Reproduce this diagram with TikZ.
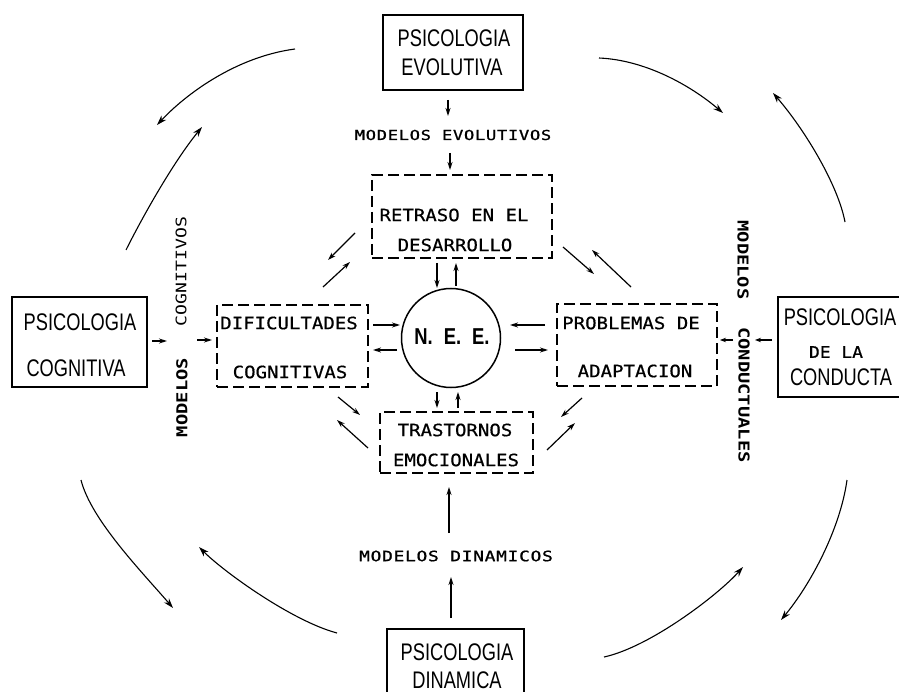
\documentclass[tikz,border=0pt]{standalone}
\usepackage{fontspec}
\usetikzlibrary{arrows.meta}
\newfontfamily\headfont[FakeStretch=0.76]{Liberation Sans}
\newfontfamily\neefont[FakeStretch=0.8]{Liberation Sans}
\newfontfamily\boxfont[FakeStretch=1.12, FakeBold=0.6]{DejaVu Sans Mono}
\newfontfamily\labfont[FakeStretch=1.25, LetterSpace=5, FakeBold=1]{DejaVu Sans Mono}
\newfontfamily\vertfont[FakeStretch=1.25]{DejaVu Sans Mono}
\begin{document}
\begin{tikzpicture}[x=1pt,y=-1pt,
  psbox/.style={draw, line width=1.5pt, inner sep=0pt},
  dbox/.style={draw, line width=1.6pt, dash pattern=on 11pt off 5pt, inner sep=0pt},
  head/.style={font=\headfont\fontsize{24}{24}\selectfont, inner sep=0pt},
  small/.style={font=\boxfont\fontsize{16}{16}\selectfont, inner sep=0pt},
  intext/.style={font=\boxfont\fontsize{17}{17}\selectfont, inner sep=0pt},
  lab/.style={font=\labfont\fontsize{13.7}{14}\selectfont, inner sep=0pt},
  vlab/.style={font=\vertfont\bfseries\fontsize{15}{15}\selectfont, inner sep=0pt},
  arr/.style={-{Stealth[length=8pt,width=5pt]}, line width=1.2pt},
  curve/.style={-{Stealth[length=10pt,width=6.5pt]}, line width=1.1pt}]
\useasboundingbox[fill=white] (0,0) rectangle (899,692);

% outer boxes
\node[psbox, minimum width=140pt, minimum height=75pt] (evol) at (453,52.5) {};
\node[psbox, minimum width=135pt, minimum height=90pt] (cogn) at (79.5,342) {};
\node[psbox, minimum width=127pt, minimum height=100pt] (cond) at (841.5,347) {};
\node[psbox, minimum width=137pt, minimum height=71pt] (din) at (455.5,664.5) {};

\node[head] (evol1) at (454,38) {PSICOLOGIA};
\node[head] (evol2) at (452,67) {EVOLUTIVA};
\node[head] (cogn1) at (80,322) {PSICOLOGIA};
\node[head] (cogn2) at (76,368) {COGNITIVA};
\node[head] (cond1) at (840,317) {PSICOLOGIA};
\node[small] (cond2) at (836,352) {DE LA};
\node[head] (cond3) at (841,377) {CONDUCTA};
\node[head] (din1) at (457,652) {PSICOLOGIA};
\node[head] (din2) at (457,680) {DINAMICA};

% inner dashed boxes
\node[dbox, minimum width=180pt, minimum height=83pt] (retr) at (462,216.5) {};
\node[dbox, minimum width=151pt, minimum height=82pt] (dific) at (292.5,346) {};
\node[dbox, minimum width=160pt, minimum height=82pt] (probl) at (637,345) {};
\node[dbox, minimum width=153pt, minimum height=61pt] (trast) at (456.5,442.5) {};

\node[intext] (retr1) at (454,215) {RETRASO EN EL};
\node[intext] (retr2) at (455,245) {DESARROLLO};
\node[intext] (dific1) at (289,323) {DIFICULTADES};
\node[intext] (dific2) at (290,372) {COGNITIVAS};
\node[intext] (probl1) at (631,323) {PROBLEMAS DE};
\node[intext] (probl2) at (635,371) {ADAPTACION};
\node[intext] (trast1) at (455,430) {TRASTORNOS};
\node[intext] (trast2) at (456,460) {EMOCIONALES};

% centre
\node[draw, circle, line width=1.5pt, minimum size=99pt, inner sep=0pt] (nee) at (451,338) {};
\node[inner sep=0pt, font=\neefont\bfseries\fontsize{23}{23}\selectfont] (neetxt) at (452,337)
  {N.\hspace{11pt}E.\hspace{11pt}E.};

% model labels
\node[lab] (mevol) at (453,135) {MODELOS EVOLUTIVOS};
\node[lab, font=\labfont\fontsize{14.3}{15}\selectfont] (mdin) at (456,556) {MODELOS DINAMICOS};
\node[vlab, rotate=90] (mcog1) at (182,397.5) {MODELOS};
\node[vlab, rotate=90, font=\vertfont\fontsize{14.5}{15}\selectfont] (mcog2) at (181,271.5) {COGNITIVOS};
\node[vlab, rotate=-90] (mcon1) at (743,260) {MODELOS};
\node[vlab, rotate=-90] (mcon2) at (744,395) {CONDUCTUALES};

% end points of the short arrows
\coordinate (a1s) at (448,100); \coordinate (a1e) at (448,116);
\coordinate (a2s) at (450,153); \coordinate (a2e) at (450,170);
\coordinate (rn1s) at (437,263); \coordinate (rn1e) at (437,288);
\coordinate (rn2s) at (456,286); \coordinate (rn2e) at (456,263);
\coordinate (dn1s) at (373,325); \coordinate (dn1e) at (400,325);
\coordinate (dn2s) at (397,350); \coordinate (dn2e) at (373,350);
\coordinate (pn1s) at (545,325); \coordinate (pn1e) at (510,325);
\coordinate (pn2s) at (515,350); \coordinate (pn2e) at (548,350);
\coordinate (tn1s) at (437,392); \coordinate (tn1e) at (437,408);
\coordinate (tn2s) at (458,408); \coordinate (tn2e) at (458,392);
\coordinate (c1s) at (152,341); \coordinate (c1e) at (167,341);
\coordinate (c2s) at (197,340); \coordinate (c2e) at (212,340);
\coordinate (k1s) at (772,340); \coordinate (k1e) at (755,340);
\coordinate (k2s) at (733,340); \coordinate (k2e) at (720,340);
\coordinate (d1s) at (451,618); \coordinate (d1e) at (451,577);
\coordinate (d2s) at (449,533); \coordinate (d2e) at (449,487);

\draw[arr] (a1s) -- (a1e);
\draw[arr] (a2s) -- (a2e);
\draw[arr] (rn1s) -- (rn1e);
\draw[arr] (rn2s) -- (rn2e);
\draw[arr] (dn1s) -- (dn1e);
\draw[arr] (dn2s) -- (dn2e);
\draw[arr] (pn1s) -- (pn1e);
\draw[arr] (pn2s) -- (pn2e);
\draw[arr] (tn1s) -- (tn1e);
\draw[arr] (tn2s) -- (tn2e);
\draw[arr] (c1s) -- (c1e);
\draw[arr] (c2s) -- (c2e);
\draw[arr,-{Stealth[length=6pt,width=4.5pt]}] (k1s) -- (k1e);
\draw[arr,-{Stealth[length=6pt,width=4.5pt]}] (k2s) -- (k2e);
\draw[arr] (d1s) -- (d1e);
\draw[arr] (d2s) -- (d2e);

% diagonal arrows between the dashed boxes
\coordinate (g1s) at (355,233); \coordinate (g1e) at (328,260);
\coordinate (g2s) at (323,287); \coordinate (g2e) at (350,262);
\coordinate (g3s) at (563,247); \coordinate (g3e) at (594,274);
\coordinate (g4s) at (631,287); \coordinate (g4e) at (592,250);
\coordinate (g5s) at (582,398); \coordinate (g5e) at (561,417);
\coordinate (g6s) at (547,450); \coordinate (g6e) at (575,423);
\coordinate (g7s) at (338,397); \coordinate (g7e) at (360,415);
\coordinate (g8s) at (368,448); \coordinate (g8e) at (337,420);
\foreach \i in {1,...,8} { \draw[arr] (g\i s) -- (g\i e); }

% outer curved arrows
\coordinate (o1s) at (295,49);  \coordinate (o1e) at (157,125);
\coordinate (o2s) at (126,250); \coordinate (o2e) at (202,127);
\coordinate (o3s) at (599,58);  \coordinate (o3e) at (723,113);
\coordinate (o4s) at (845,222); \coordinate (o4e) at (773,93);
\coordinate (o5s) at (81,480);  \coordinate (o5e) at (173,608);
\coordinate (o6s) at (337,633); \coordinate (o6e) at (199,547);
\coordinate (o7s) at (604,657); \coordinate (o7e) at (743,567);
\coordinate (o8s) at (847,480); \coordinate (o8e) at (781,620);
\draw[curve] (o1s) .. controls (235,57) and (185,95) .. (o1e);
\draw[curve] (o2s) .. controls (145,212) and (175,160) .. (o2e);
\draw[curve] (o3s) .. controls (645,60) and (690,85) .. (o3e);
\draw[curve] (o4s) .. controls (838,185) and (805,130) .. (o4e);
\draw[curve] (o5s) .. controls (91,520) and (143,573) .. (o5e);
\draw[curve] (o6s) .. controls (292,621) and (224,572) .. (o6e);
\draw[curve] (o7s) .. controls (650,647) and (718,595) .. (o7e);
\draw[curve] (o8s) .. controls (840,530) and (810,585) .. (o8e);
\end{tikzpicture}
\end{document}
